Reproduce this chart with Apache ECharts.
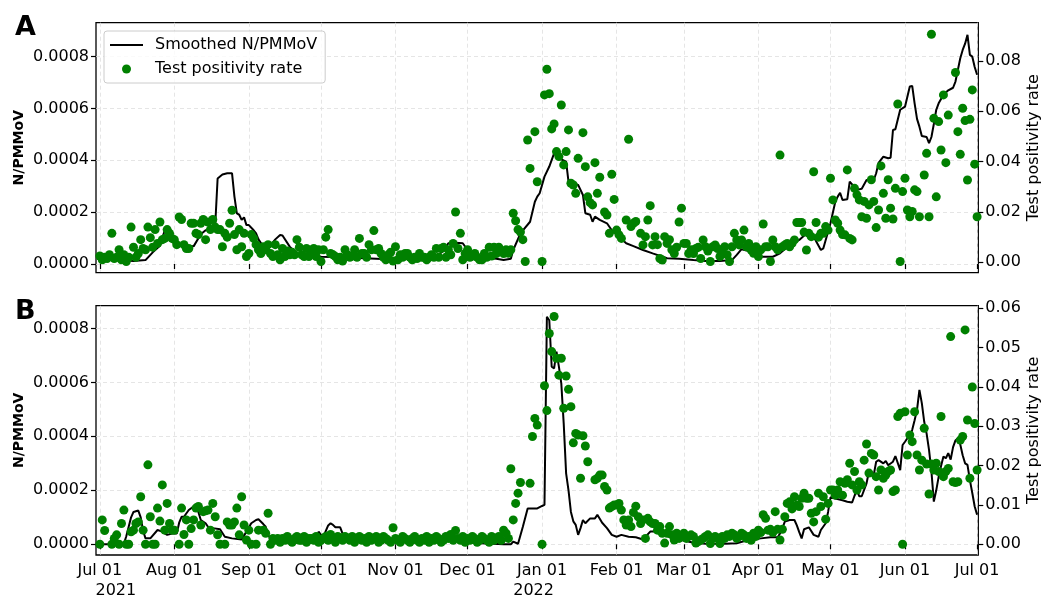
<!DOCTYPE html>
<html><head><meta charset="utf-8">
<script src="https://cdn.jsdelivr.net/npm/echarts@6/dist/echarts.min.js"></script>
<style>html,body{margin:0;padding:0;background:#fff}#c{width:1042px;height:598px}</style>
</head><body><div id="c"></div>
<script>
const FONT = 'DejaVu Sans';
const DAY = 86400000;
const START = Date.UTC(2021, 6, 1);

// x-axis month ticks and labels
const monthStarts = [[2021,6],[2021,7],[2021,8],[2021,9],[2021,10],[2021,11],[2022,0],[2022,1],[2022,2],[2022,3],[2022,4],[2022,5],[2022,6]].map(a => Date.UTC(a[0], a[1], 1));
const monthLabels = ['Jul 01','Aug 01','Sep 01','Oct 01','Nov 01','Dec 01','Jan 01','Feb 01','Mar 01','Apr 01','May 01','Jun 01','Jul 01'];
const yearLabels = {0: '2021', 6: '2022'};

// y tick labels
const leftTicks = [0, 0.0002, 0.0004, 0.0006, 0.0008];
const rightTicksA = [0, 0.02, 0.04, 0.06, 0.08];
const rightTicksB = [0, 0.01, 0.02, 0.03, 0.04, 0.05, 0.06];

// Panel A: smoothed N/PMMoV (x1e-4), day offset from 2021-07-01
const lineADay = [0,3,8,14,19,22,25,27,29,31,33,36,39,42,44,47,48,49,51,53,55,56,57,58,59,60,61,62,64,65,66,68,69,70,73,75,76,79,82,86,92,104,110,120,130,140,143,145,148,151,154,157,165,168,171,172,175,179,181,182,183,185,187,189,191,194,195,199,201,202,204,205,206,208,211,213,216,219,222,226,230,236,241,247,252,258,263,265,267,270,274,280,283,287,291,294,297,300,301,304,306,307,308,309,311,312,315,317,319,322,323,324,326,328,329,330,331,333,335,337,338,339,340,341,342,344,345,346,347,348,349,351,353,355,356,358,359,360,361,362,363,364,365];
const lineAVal = [.25,.2,.15,.12,.15,.45,.7,1.3,1.38,.85,.73,.7,.68,1.15,1.3,1.3,1.5,3.3,3.45,3.5,3.5,2.6,1.95,1.9,1.7,1.8,1.5,1.5,1.3,1.18,.95,.67,.48,.6,.95,1.12,1.1,.67,.4,.3,.28,.25,.22,.18,.2,.3,.5,.8,.82,.8,.41,.3,.2,.15,.2,.54,1.18,1.63,2.4,2.6,2.73,3.37,3.76,4.27,4.08,3.95,3.18,3.05,2.66,1.96,1.9,1.63,1.83,1.7,1.57,1.3,1.05,.8,.69,.54,.41,.22,.2,.15,.12,.12,.15,.35,.57,.5,.28,.28,.41,.73,.93,1.18,1.05,.54,.6,1.57,2.4,2.6,2.75,2.47,2.5,3.18,2.86,2.9,3.24,3.24,3.5,3.9,4.14,4.08,4.1,5.17,5.2,5.95,6.07,6.85,6.87,6.2,5.6,5.3,4.94,4.9,4.66,4.9,5.4,5.95,6.2,6.53,6.7,6.8,7.04,7.94,8.26,8.5,8.84,8.07,8.0,7.6,7.3];

// Panel A: test positivity rate (%), one value per day from 2021-07-01
const tprA = [
.25,.1,.2,.15,.3,1.15,.15,.2,.5,.1,
.3,.03,.2,1.4,.6,.2,.35,.9,.55,.5,
1.4,.98,.6,1.3,.75,1.6,.9,.95,1.3,1.15,
.95,.9,.7,1.8,1.7,.7,.55,.55,1.55,1.55,
1.15,1.1,1.55,1.7,.9,1.6,1.3,1.7,1.4,1.3,
1.3,.62,1.15,1.0,1.55,2.07,1.1,.5,1.3,.62,
1.15,.23,.35,1.1,.95,.7,.5,.35,.62,.5,
.7,.35,.23,.7,.3,.1,.55,.23,.45,.3,
.4,.3,.9,.6,.3,.23,.55,.23,.35,.55,
.23,.5,.03,.5,1.0,1.3,.35,.3,.23,.1,
.2,.05,.5,.3,.2,.25,.5,.2,.95,.35,
.35,.2,.7,.5,1.26,.5,.55,.35,.2,.1,
.3,.4,.05,.62,.1,.3,.2,.35,.35,.2,
.1,.2,.15,.35,.2,.2,.1,.2,.3,.2,
.55,.2,.55,.6,.2,.5,.3,.75,2.0,.55,
1.15,.1,.35,.5,.2,.25,.35,.2,.1,.1,
.35,.2,.6,.25,.6,.35,.6,.45,.35,.5,
.36,.5,1.95,1.65,1.3,1.2,.9,.03,4.86,3.73,
null,5.19,3.2,null,.03,6.65,7.67,6.7,5.3,5.5,
4.4,4.2,6.25,3.87,4.4,5.26,3.14,3.07,2.74,4.13,
null,5.15,3.8,2.6,2.37,2.28,3.96,2.74,3.38,null,
2.0,1.88,1.15,3.5,2.5,1.28,1.09,.95,null,1.68,
4.89,1.42,1.55,1.62,null,1.15,.69,1.02,1.68,2.25,
.69,1.02,.7,.15,.09,1.02,.75,.9,.5,.35,
.6,1.6,2.15,.75,.75,.35,.5,.35,.55,.6,
.15,.89,.62,.45,.03,.62,.69,.55,.23,.36,
.62,.3,.03,.62,1.15,.89,.69,.89,1.28,.62,
.75,.49,.36,.62,.23,.5,1.52,.62,.62,.03,
.89,.62,.5,4.26,.62,.69,.75,.62,.75,.89,
1.58,1.58,1.58,1.2,.49,1.15,1.02,3.6,1.58,1.0,
1.15,1.15,1.42,1.28,3.34,2.48,1.68,1.55,1.28,1.1,
1.09,3.67,.95,.89,2.94,2.68,2.48,1.81,2.42,1.75,
2.28,3.28,2.42,1.38,2.08,3.83,2.74,1.75,3.28,2.15,
1.72,2.94,6.29,.03,2.81,3.34,2.08,1.81,2.02,2.88,
2.81,1.81,null,3.47,4.33,1.81,9.06,5.72,2.6,5.59,
4.46,6.65,3.96,5.85,null,null,7.54,5.19,4.29,6.12,
5.63,3.27,5.68,6.85,3.9,1.81];

// Panel B: smoothed N/PMMoV (x1e-4)
const lineBDay = [0,5,10,11,13,14,16,17,18,19,21,24,26,28,30,32,33,34,35,37,39,41,42,44,45,47,50,52,55,59,61,63,65,66,68,69,70,71,72,75,90,91,92,93,95,96,97,98,100,101,102,104,110,120,130,140,145,148,151,154,168,171,172,174,176,178,182,184,185,186,187,188,189,190,191,192,193,194,195,196,197,198,199,200,201,202,204,206,207,208,209,211,213,215,217,220,223,226,229,233,236,239,243,247,252,260,265,269,275,279,282,283,284,285,287,289,290,291,292,293,295,297,299,300,302,303,304,306,309,311,313,314,315,316,317,319,320,322,323,324,326,327,328,330,331,333,334,335,336,337,338,339,340,341,342,343,344,345,346,347,348,349,350,351,352,353,354,355,356,357,358,359,360,361,362,363,364,365];
const lineBVal = [0,0,.02,.3,1.0,1.2,1.25,1.0,.5,.22,.22,.53,.47,.35,.4,.4,.8,1.02,1.02,1.27,1.4,1.2,.9,.78,.65,.6,.56,.28,.22,.18,.47,.78,.9,.93,.75,.65,.35,.2,.1,.06,.06,.47,.35,.28,.7,.78,.72,.63,.63,.4,.28,.16,.1,.08,.1,.1,.22,.28,.16,.06,0,0,.1,.02,.65,1.33,1.33,1.42,1.46,8.43,8.3,6.58,6.52,7.14,6.58,5.96,4.48,2.63,2.0,1.2,.85,.72,.35,.6,.9,.78,.96,.96,1.09,.95,.8,.6,.35,.28,.35,.28,.26,.18,.47,.47,.31,.22,.14,.06,.02,.02,.04,.14,.22,.26,.26,.4,.6,.84,.9,.9,.7,.45,.22,.56,.63,.35,.28,.53,.78,1.2,1.74,1.7,1.63,1.58,1.55,1.8,2.0,1.78,1.78,2.26,2.7,2.57,3.06,3.12,3.0,3.09,2.93,3.06,3.27,2.75,3.68,3.8,3.93,4.0,4.24,4.6,4.98,5.72,5.23,4.54,4.1,3.5,2.7,1.58,2.0,2.5,2.9,3.25,3.19,3.38,3.14,3.6,3.85,3.93,3.7,3.3,3.0,2.94,2.38,1.9,1.4,1.1];

// Panel B: test positivity rate (%), one value per day from 2021-07-01
const tprB = [
0,.62,.35,null,null,0,.15,.24,0,.53,
.87,0,0,.32,.36,.53,.57,1.21,.36,0,
2.02,.7,0,0,.92,.59,1.51,.36,1.04,.53,
.36,.36,null,0,.92,.25,.62,0,.4,.62,
.92,.96,.49,.83,.85,.87,.36,1.04,.7,.24,
0,null,0,.57,.49,.49,.57,.92,.24,1.21,
.49,.11,.36,0,null,0,.36,null,.36,.28,
.79,0,.15,.1,.15,.05,.15,.1,.2,.1,
.05,.15,.2,.1,.1,.2,.05,.15,.15,.1,
.2,.05,.1,.15,.2,.1,.25,.15,.05,.2,
.15,.1,.2,.15,.1,.2,.05,.15,.2,.1,
.15,.05,.2,.1,.15,.2,.05,.1,.2,.15,
.1,.05,.42,.15,.1,.05,.2,.15,.1,.05,
.15,.2,.1,.05,.15,.1,.2,.05,.15,.1,
.2,.15,.05,.1,.2,.15,.25,.1,.35,.15,
.1,.2,.05,.15,.1,.2,.15,.05,.1,.2,
.15,.1,.05,.2,.1,.15,.2,.1,.36,.28,
.15,1.92,.62,1.04,1.3,1.57,null,null,null,1.55,
2.74,3.2,3.03,null,0,4.03,3.4,5.36,4.9,5.79,
4.73,4.3,4.73,3.46,4.28,3.94,3.5,2.58,2.82,2.78,
1.68,2.76,2.5,2.1,null,null,1.64,1.68,1.76,1.76,
1.47,1.38,.92,.96,1.0,1.0,1.04,.87,.62,.49,
.62,.45,.81,.97,.7,.53,.62,.15,.66,.57,
.53,.53,.36,.45,.28,.03,.28,.45,.24,.11,
.28,.15,.19,.28,.15,.2,.24,.2,.03,.07,
.11,.15,.2,.24,.02,.15,.2,.15,.02,.2,
.15,.24,.2,.28,.24,.15,.2,.28,.24,.15,
.2,.1,.28,.2,.36,.3,.75,.66,.36,.38,
.3,.83,.38,.11,.38,.7,1.04,1.08,.9,1.21,
1.0,.96,1.17,1.3,1.17,1.17,.79,.57,.83,1.3,
.96,1.21,.64,1.04,1.38,1.38,1.25,1.38,1.59,1.25,
1.55,1.64,2.06,1.51,1.85,1.38,1.59,1.51,2.14,2.55,
1.81,2.31,2.27,1.72,1.38,1.89,1.68,1.76,1.85,1.89,
1.34,1.38,3.25,3.33,0,3.37,2.27,2.78,2.61,3.37,
2.27,1.89,2.14,2.95,2.04,1.28,2.04,1.89,2.06,1.85,
3.25,1.72,1.85,1.93,5.28,1.59,1.57,1.59,2.65,2.74,
5.45,3.16,1.68,4.0,3.07,1.89];

// ---------- build ----------
const toLine = (days, vals) => days.map((d, i) => [START + d * DAY, vals[i] * 1e-4]);
const toDaily = arr => arr.map((v, i) => v == null ? null : [START + i * DAY, v / 100]).filter(Boolean);

const GRID_LINE = { show: true, lineStyle: { color: '#dedede', width: 0.8, type: [4, 3] } };
const TICK = { show: true, inside: false, length: 5, lineStyle: { color: '#000', width: 1.2 } };
const LBL = { color: '#000', fontFamily: FONT, fontSize: 16 };
// legend icon: 2px line spanning the full icon width (tiny corner marks fix the 33x9 box)
const LINE_ICON = 'path://M0,3.6H33V5.4H0ZM0,0H0.01V0.01H0ZM32.99,8.99H33V9H32.99Z';

function xAxis(idx, showLabels) {
  return {
    type: 'value', gridIndex: idx, scale: true,
    min: START - 1.6 * DAY, max: START + 365.5 * DAY,
    axisLine: { show: false },
    axisTick: Object.assign({ customValues: monthStarts }, TICK),
    splitLine: GRID_LINE,
    axisLabel: Object.assign({}, LBL, {
      show: showLabels, customValues: monthStarts, margin: 6, lineHeight: 20,
      hideOverlap: false,
      formatter: function (v) {
        let i = -1;
        for (let k = 0; k < monthStarts.length; k++) if (Math.abs(monthStarts[k] - v) < DAY / 2) i = k;
        if (i < 0) return '';
        if (yearLabels[i]) return '{m|' + monthLabels[i] + '}\n{' + (i === 0 ? 'y1' : 'y2') + '|' + yearLabels[i] + '}';
        return '{m|' + monthLabels[i] + '}';
      },
      rich: {
        m: { fontFamily: FONT, fontSize: 16, color: '#000', lineHeight: 20 },
        y1: { fontFamily: FONT, fontSize: 16, color: '#000', lineHeight: 20, padding: [0, 0, 0, 32] },
        y2: { fontFamily: FONT, fontSize: 16, color: '#000', lineHeight: 20, padding: [0, 17, 0, 0] }
      }
    })
  };
}

function yAxis(grid, pos, min, max, ticks, dec, name, gap, bold, split) {
  return {
    type: 'value', gridIndex: grid, position: pos, min: min, max: max,
    axisLine: { show: false },
    axisTick: Object.assign({ customValues: ticks }, TICK),
    splitLine: split ? GRID_LINE : { show: false },
    axisLabel: Object.assign({}, LBL, { customValues: ticks, margin: 7, formatter: v => v.toFixed(dec) }),
    name: name, nameLocation: 'middle', nameRotate: 90, nameGap: gap, nameMoveOverlap: false,
    nameTextStyle: { color: '#000', fontFamily: FONT, fontSize: bold ? 14 : 16, fontWeight: bold ? 'bold' : 'normal' }
  };
}

const option = {
  animation: false,
  backgroundColor: '#fff',
  textStyle: { fontFamily: FONT },
  title: [
    { text: 'A', left: 15, top: 14, padding: 0, textStyle: { fontFamily: FONT, fontSize: 27, fontWeight: 'bold', color: '#000' } },
    { text: 'B', left: 15, top: 298, padding: 0, textStyle: { fontFamily: FONT, fontSize: 27, fontWeight: 'bold', color: '#000' } }
  ],
  legend: {
    orient: 'vertical', left: 104, top: 31, padding: [6, 8, 6, 6],
    itemWidth: 33, itemHeight: 9, itemGap: 8,
    backgroundColor: 'rgba(255,255,255,0.8)', borderColor: '#cccccc', borderWidth: 1, borderRadius: 3,
    textStyle: { color: '#000', fontFamily: FONT, fontSize: 16, lineHeight: 16, padding: [0, 0, 0, 7] },
    data: [
      { name: 'Smoothed N/PMMoV', icon: LINE_ICON, itemStyle: { color: '#000' } },
      { name: 'Test positivity rate', icon: 'circle' }
    ]
  },
  grid: [
    { left: 96, top: 22.7, width: 882.3, height: 250, show: true, borderColor: '#000', borderWidth: 1.3, backgroundColor: 'transparent', containLabel: false, outerBoundsMode: 'none' },
    { left: 96, top: 305.7, width: 882.3, height: 249.3, show: true, borderColor: '#000', borderWidth: 1.3, backgroundColor: 'transparent', containLabel: false, outerBoundsMode: 'none' }
  ],
  xAxis: [xAxis(0, false), xAxis(1, true)],
  yAxis: [
    yAxis(0, 'left', -0.0000336, 0.000931, leftTicks, 4, 'N/PMMoV', 70, true, true),
    yAxis(0, 'right', -0.00413, 0.0952, rightTicksA, 2, 'Test positivity rate', 48, false, false),
    yAxis(1, 'left', -0.0000396, 0.000884, leftTicks, 4, 'N/PMMoV', 70, true, true),
    yAxis(1, 'right', -0.00272, 0.06066, rightTicksB, 2, 'Test positivity rate', 48, false, false)
  ],
  series: [
    { name: 'Smoothed N/PMMoV', type: 'line', xAxisIndex: 0, yAxisIndex: 0, data: toLine(lineADay, lineAVal),
      symbol: 'none', showSymbol: false, lineStyle: { color: '#000', width: 2 }, itemStyle: { color: '#000' }, z: 2 },
    { name: 'Test positivity rate', type: 'scatter', xAxisIndex: 0, yAxisIndex: 1, data: toDaily(tprA),
      symbolSize: 9, itemStyle: { color: '#008000', opacity: 1 }, z: 3 },
    { name: 'B Smoothed N/PMMoV', type: 'line', xAxisIndex: 1, yAxisIndex: 2, data: toLine(lineBDay, lineBVal),
      symbol: 'none', showSymbol: false, lineStyle: { color: '#000', width: 2 }, itemStyle: { color: '#000' }, z: 2 },
    { name: 'B Test positivity rate', type: 'scatter', xAxisIndex: 1, yAxisIndex: 3, data: toDaily(tprB),
      symbolSize: 9, itemStyle: { color: '#008000', opacity: 1 }, z: 3 }
  ]
};

const chart = echarts.init(document.getElementById('c'), null, { renderer: 'canvas' });
chart.setOption(option);
</script>
</body></html>
